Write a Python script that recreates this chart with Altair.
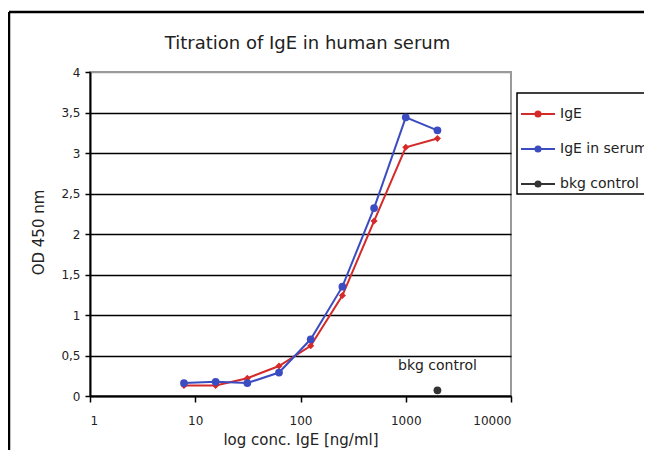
import altair as alt
import pandas as pd

# ---- data ----
conc = [7.8125, 15.625, 31.25, 62.5, 125, 250, 500, 1000, 2000]
ige = [0.13, 0.13, 0.22, 0.37, 0.62, 1.24, 2.16, 3.07, 3.18]
ige_serum = [0.16, 0.175, 0.16, 0.29, 0.70, 1.35, 2.32, 3.44, 3.28]
bkg_conc = [2000]
bkg_od = [0.07]
series_names = ["IgE", "IgE in serum", "bkg control"]
series_colors = ["#d42a2a", "#3b4cc0", "#333333"]
x_ticks = [1, 10, 100, 1000, 10000]
y_ticks = [0, 0.5, 1, 1.5, 2, 2.5, 3, 3.5, 4]

FONT = "DejaVu Sans"
TXT = "#222222"

rows = []
for c, v in zip(conc, ige):
    rows.append({"conc": c, "od": v, "series": series_names[0]})
for c, v in zip(conc, ige_serum):
    rows.append({"conc": c, "od": v, "series": series_names[1]})
for c, v in zip(bkg_conc, bkg_od):
    rows.append({"conc": c, "od": v, "series": series_names[2]})
df = pd.DataFrame(rows)
bkg_df = pd.DataFrame({"conc": bkg_conc, "od": bkg_od, "label": ["bkg control"]})

x_enc = alt.X(
    "conc:Q",
    scale=alt.Scale(type="log", domain=[1, 10000]),
    axis=alt.Axis(
        values=x_ticks, labelExpr="toString(datum.value)", grid=False,
        title="log conc. IgE [ng/ml]", titleFont=FONT, titleFontSize=15,
        titleFontWeight="normal", titleColor=TXT, titleY=48, titleBaseline="alphabetic",
        labelFont=FONT, labelFontSize=12, labelColor=TXT, labelPadding=13,
        domainColor="black", domainWidth=2, tickColor="black", tickWidth=1.5, tickSize=6,
    ),
)
y_enc = alt.Y(
    "od:Q",
    scale=alt.Scale(domain=[0, 4]),
    axis=alt.Axis(
        values=y_ticks, labelExpr="replace(toString(datum.value), '.', ',')",
        grid=True, gridWidth=1.5,
        gridColor={"condition": {"test": "datum.value >= 4", "value": "#9a9a9a"}, "value": "black"},
        title="OD 450 nm", titleFont=FONT, titleFontSize=15, titleFontWeight="normal",
        titleColor=TXT, titleX=-52, titleY=160, titleAngle=-90, titleAlign="center",
        titleBaseline="middle",
        labelFont=FONT, labelFontSize=12, labelColor=TXT, labelPadding=5,
        domainColor="black", domainWidth=2, tickColor="black", tickWidth=1.5, tickSize=5,
    ),
)
color_scale = alt.Scale(domain=series_names, range=series_colors)
color_enc = alt.Color(
    "series:N",
    scale=color_scale,
    legend=alt.Legend(
        title=None, orient="none", legendX=427, legendY=21, direction="vertical",
        symbolType="M-1,0H1M-0.15,0A0.15,0.15 0 1,0 0.15,0A0.15,0.15 0 1,0 -0.15,0",
        symbolSize=1156, symbolStrokeWidth=2,
        labelFont=FONT, labelFontSize=14, labelColor=TXT, labelOffset=4,
        padding=3, rowPadding=10, strokeColor="black", fillColor="white",
    ),
)
point_color = alt.Color("series:N", scale=color_scale, legend=None)

frame_df = pd.DataFrame({"a": [0]})
frame_left = alt.Chart(frame_df).mark_rule(color="black", strokeWidth=2.5).encode(
    x=alt.value(-81), y=alt.value(-60), y2=alt.value(400))
frame_top = alt.Chart(frame_df).mark_rule(color="black", strokeWidth=2.5).encode(
    x=alt.value(-81), x2=alt.value(600), y=alt.value(-60))

lines = alt.Chart(df).mark_line(strokeWidth=2).encode(x=x_enc, y=y_enc, color=color_enc)
pts_ige = alt.Chart(df).transform_filter(alt.datum.series == series_names[0]).mark_point(
    filled=True, size=50, opacity=1, shape="diamond").encode(x=x_enc, y=y_enc, color=point_color)
pts_other = alt.Chart(df).transform_filter(alt.datum.series != series_names[0]).mark_point(
    filled=True, size=60, opacity=1, shape="circle").encode(x=x_enc, y=y_enc, color=point_color)
ann = alt.Chart(bkg_df).mark_text(dy=-24, font=FONT, fontSize=14, color=TXT).encode(
    x=x_enc, y=y_enc, text="label:N")

chart = alt.layer(frame_left, frame_top, lines, pts_ige, pts_other, ann).properties(
    width=421, height=324,
    autosize=alt.AutoSizeParams(type="none"),
    padding={"left": 82, "top": 64, "right": 133, "bottom": 54},
    background="white",
    title=alt.TitleParams(
        "Titration of IgE in human serum", font=FONT, fontSize=18, fontWeight="normal",
        color=TXT, anchor="middle", frame="group", baseline="alphabetic", offset=0, dy=56, dx=7,
    ),
).configure_view(stroke="#9a9a9a", strokeWidth=2).configure_legend(strokeWidth=1.5)

chart.save("out.html", embed_options={"renderer": "svg", "actions": False})
